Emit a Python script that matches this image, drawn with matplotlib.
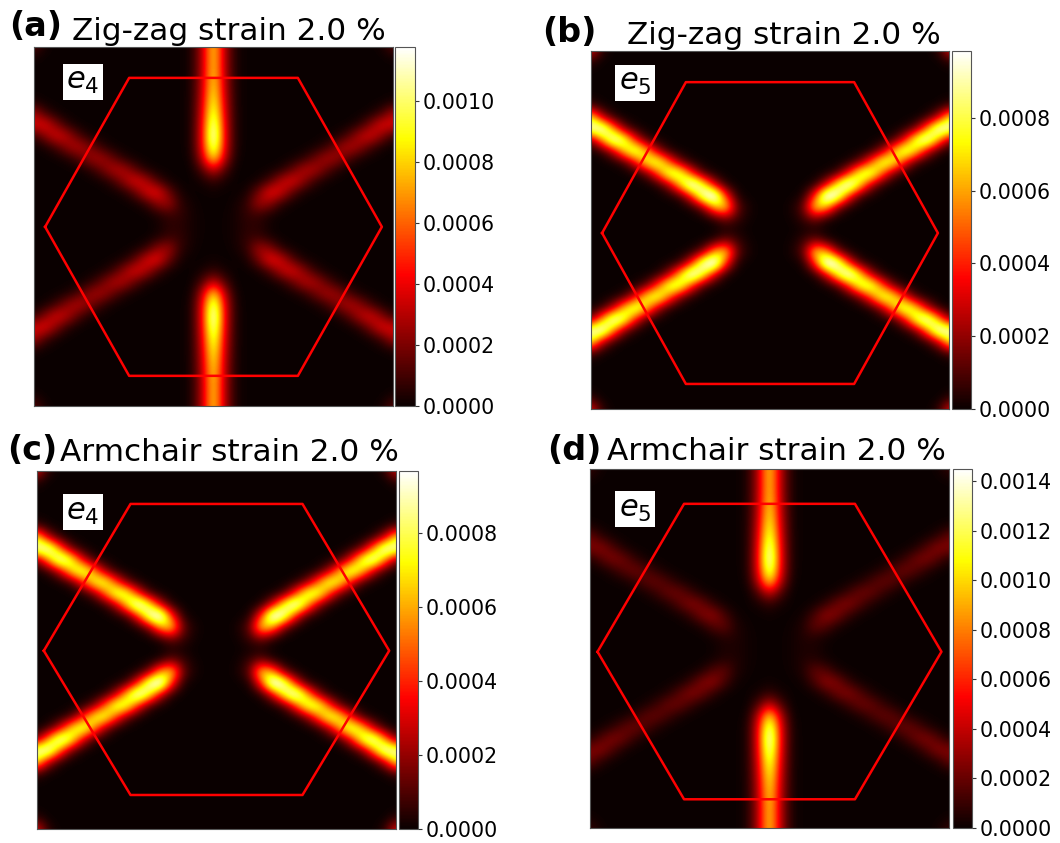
import matplotlib
matplotlib.use('Agg')
import matplotlib.pyplot as plt
import numpy as np

W, H = 1060, 843

# upper left quadrant of each map in percent of the streak peak
# rows run y = 1 .. 0 and columns x = -1 .. 0, both in steps of 1/16
tip_rows = [
    [30, 4, 0, 0, 0, 0, 0, 0, 0, 0, 0, 0, 0, 0, 0, 0, 0],
    [4, 0, 0, 0, 0, 0, 0, 0, 0, 0, 0, 0, 0, 0, 0, 0, 0],
    [0, 0, 0, 0, 0, 0, 0, 0, 0, 0, 0, 0, 0, 0, 0, 0, 0],
    [0, 0, 0, 0, 0, 0, 0, 0, 0, 0, 0, 0, 0, 0, 0, 0, 0],
    [0, 0, 0, 0, 0, 0, 0, 0, 0, 0, 0, 0, 0, 0, 0, 0, 0],
    [7, 1, 0, 0, 0, 0, 0, 0, 0, 0, 0, 0, 0, 0, 0, 0, 0],
    [68, 23, 4, 0, 0, 0, 0, 0, 0, 0, 0, 0, 0, 0, 0, 0, 0],
    [86, 96, 51, 13, 2, 0, 0, 0, 0, 0, 0, 0, 0, 0, 0, 0, 0],
    [14, 52, 94, 78, 31, 6, 1, 0, 0, 0, 0, 0, 0, 0, 0, 0, 0],
    [0, 4, 23, 63, 85, 57, 19, 3, 0, 0, 0, 0, 0, 0, 0, 0, 0],
    [0, 0, 1, 6, 31, 70, 79, 44, 13, 2, 0, 0, 0, 0, 0, 0, 0],
    [0, 0, 0, 0, 2, 11, 43, 82, 78, 36, 7, 1, 0, 0, 0, 0, 0],
    [0, 0, 0, 0, 0, 0, 3, 20, 63, 100, 72, 25, 3, 0, 0, 0, 0],
    [0, 0, 0, 0, 0, 0, 0, 1, 6, 36, 89, 104, 38, 3, 0, 0, 0],
    [0, 0, 0, 0, 0, 0, 0, 0, 0, 2, 15, 56, 66, 13, 2, 0, 0],
    [0, 0, 0, 0, 0, 0, 0, 0, 0, 0, 0, 4, 15, 7, 1, 0, 0],
    [0, 0, 0, 0, 0, 0, 0, 0, 0, 0, 0, 0, 1, 1, 0, 0, 0],
]
arc_rows = [
    [30, 4, 0, 0, 0, 0, 0, 0, 0, 0, 0, 0, 0, 0, 0, 0, 0],
    [4, 0, 0, 0, 0, 0, 0, 0, 0, 0, 0, 0, 0, 0, 0, 0, 0],
    [0, 0, 0, 0, 0, 0, 0, 0, 0, 0, 0, 0, 0, 0, 0, 0, 0],
    [0, 0, 0, 0, 0, 0, 0, 0, 0, 0, 0, 0, 0, 0, 0, 0, 0],
    [0, 0, 0, 0, 0, 0, 0, 0, 0, 0, 0, 0, 0, 0, 0, 0, 0],
    [7, 1, 0, 0, 0, 0, 0, 0, 0, 0, 0, 0, 0, 0, 0, 0, 0],
    [65, 22, 4, 0, 0, 0, 0, 0, 0, 0, 0, 0, 0, 0, 0, 0, 0],
    [82, 91, 47, 11, 1, 0, 0, 0, 0, 0, 0, 0, 0, 0, 0, 0, 0],
    [13, 49, 86, 68, 26, 5, 1, 0, 0, 0, 0, 0, 0, 0, 0, 0, 0],
    [0, 4, 21, 55, 72, 47, 16, 3, 0, 0, 0, 0, 0, 0, 0, 0, 0],
    [0, 0, 1, 6, 26, 58, 65, 37, 11, 2, 0, 0, 0, 0, 0, 0, 0],
    [0, 0, 0, 0, 1, 10, 35, 69, 68, 32, 7, 1, 0, 0, 0, 0, 0],
    [0, 0, 0, 0, 0, 0, 3, 17, 55, 90, 68, 23, 4, 0, 0, 0, 0],
    [0, 0, 0, 0, 0, 0, 0, 1, 6, 32, 83, 96, 40, 6, 0, 0, 0],
    [0, 0, 0, 0, 0, 0, 0, 0, 0, 2, 14, 52, 62, 16, 4, 0, 0],
    [0, 0, 0, 0, 0, 0, 0, 0, 0, 0, 0, 6, 18, 16, 5, 1, 0],
    [0, 0, 0, 0, 0, 0, 0, 0, 0, 0, 0, 3, 12, 12, 5, 1, 0],
]
# vertical streak, columns x = 0, -1/16, -2/16
stem_centre = [74, 74, 74, 76, 80, 86, 94, 104, 110, 100, 76, 30, 6, 1, 0, 0, 0]
stem_side = [24, 24, 24, 25, 26, 28, 30, 32, 33, 32, 25, 10, 2, 0, 0, 0, 0]
stem_outer = [2, 2, 2, 2, 2, 2, 2, 2, 2, 2, 1, 0, 0, 0, 0, 0, 0]

panel_tags = ['(a)', '(b)', '(c)', '(d)']
panel_titles = ['Zig-zag strain 2.0 %', 'Zig-zag strain 2.0 %', 'Armchair strain 2.0 %', 'Armchair strain 2.0 %']
panel_bands = ['$e_4$', '$e_5$', '$e_4$', '$e_5$']
streak_tables = [arc_rows, tip_rows, tip_rows, arc_rows]
streak_peak = [0.00045, 0.00114, 0.00110, 0.00032]
stem_peak = [0.00118, 0, 0, 0.00145]
color_max = [0.001177, 0.000984, 0.000968, 0.00145]
cbar_ticks = [[0, 0.0002, 0.0004, 0.0006, 0.0008, 0.0010],
              [0, 0.0002, 0.0004, 0.0006, 0.0008],
              [0, 0.0002, 0.0004, 0.0006, 0.0008],
              [0, 0.0002, 0.0004, 0.0006, 0.0008, 0.0010, 0.0012, 0.0014]]
# Brillouin zone corners: left/right x, inner x, top y, bottom y, centre y
hex_x = [0.938, 0.938, 0.962, 0.958]
hex_inner = [0.470, 0.470, 0.479, 0.476]
hex_top = [0.828, 0.826, 0.816, 0.806]
hex_bottom = [-0.832, -0.860, -0.810, -0.840]
hex_mid = [-0.002, -0.017, -0.004, -0.018]

# pixel layout: left, top, right, bottom
ax_box = [(34, 47, 393, 406), (591, 51, 949, 409), (37, 471, 396, 829), (590, 469, 949, 828)]
cb_box = [(395, 47, 415, 406), (952, 51, 971, 409), (399, 471, 418, 829), (953, 469, 972, 828)]
tag_xy = [(9, 36), (542, 42), (7, 460), (547, 460)]
title_xy = [(72, 40), (627, 44), (60, 461), (607, 460)]
band_xy = [(83, 82), (635, 83), (83, 512), (635, 509)]


def add_px_axes(fig, box):
    l, t, r, b = box
    return fig.add_axes([l / W, 1 - b / H, (r - l) / W, (b - t) / H])


def full_map(i):
    quad = np.array(streak_tables[i], dtype=float) * streak_peak[i] / 100
    quad[:, 16] += np.array(stem_centre) * stem_peak[i] / 100
    quad[:, 15] += np.array(stem_side) * stem_peak[i] / 100
    quad[:, 14] += np.array(stem_outer) * stem_peak[i] / 100
    top = np.hstack([quad, quad[:, -2::-1]])
    return np.vstack([top, top[-2::-1]])


fig = plt.figure(figsize=(W / 100, H / 100), dpi=100)
half = 1 / 32

for i in range(4):
    ax = add_px_axes(fig, ax_box[i])
    im = ax.imshow(full_map(i), cmap='hot', vmin=0, vmax=color_max[i], interpolation='bicubic',
                   extent=(-1 - half, 1 + half, -1 - half, 1 + half), aspect='auto')
    hx = [-hex_x[i], -hex_inner[i], hex_inner[i], hex_x[i], hex_inner[i], -hex_inner[i], -hex_x[i]]
    hy = [hex_mid[i], hex_top[i], hex_top[i], hex_mid[i], hex_bottom[i], hex_bottom[i], hex_mid[i]]
    ax.plot(hx, hy, color='red', linewidth=1.8)
    ax.set_xlim(-1, 1)
    ax.set_ylim(-1, 1)
    ax.set_xticks([])
    ax.set_yticks([])
    for s in ax.spines.values():
        s.set_color('#555555')
        s.set_linewidth(0.8)

    cax = add_px_axes(fig, cb_box[i])
    cb = fig.colorbar(im, cax=cax, ticks=cbar_ticks[i], format='%.4f')
    cb.ax.tick_params(labelsize=14.8, length=3, width=0.8, pad=2.5, color='#333333')
    cb.outline.set_edgecolor('#555555')
    cb.outline.set_linewidth(0.8)

    fig.text(tag_xy[i][0] / W, 1 - tag_xy[i][1] / H, panel_tags[i], fontsize=24, fontweight='bold',
             ha='left', va='baseline')
    fig.text(title_xy[i][0] / W, 1 - title_xy[i][1] / H, panel_titles[i], fontsize=22.4,
             ha='left', va='baseline')
    fig.text(band_xy[i][0] / W, 1 - band_xy[i][1] / H, panel_bands[i], fontsize=22, ha='center', va='center',
             bbox=dict(facecolor='white', edgecolor='none', pad=2.5))

fig.savefig('out.png', dpi=100)
